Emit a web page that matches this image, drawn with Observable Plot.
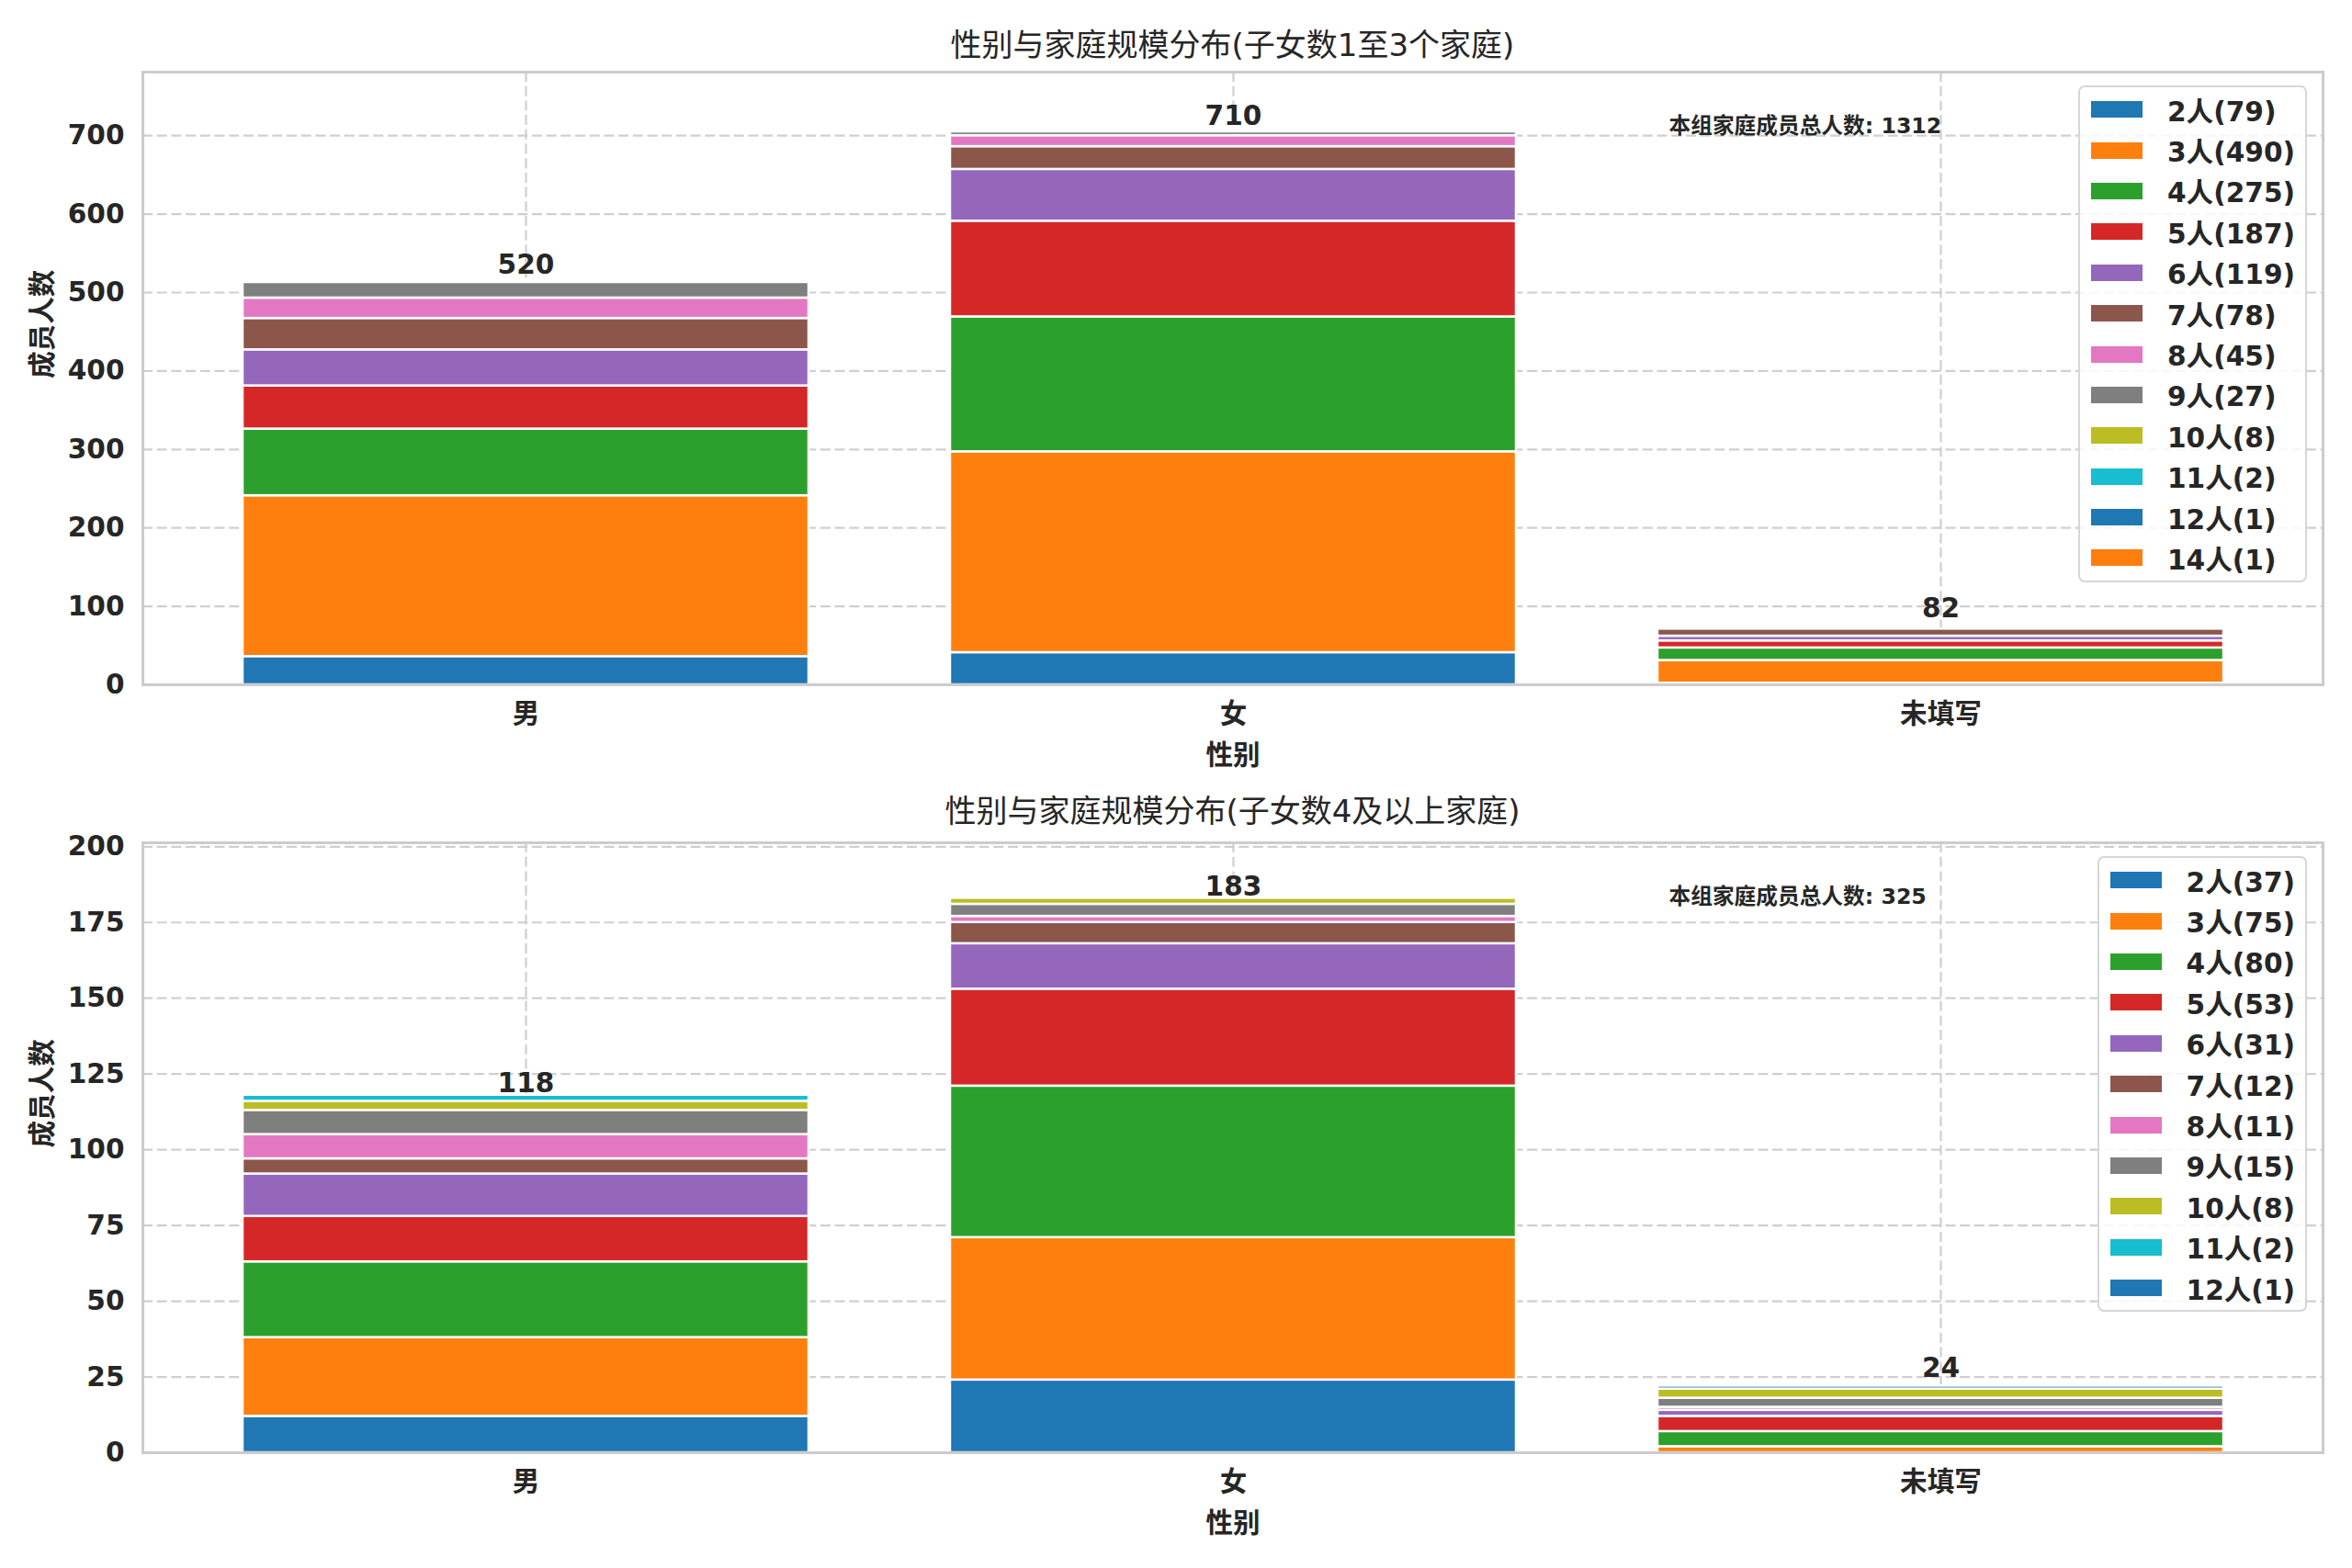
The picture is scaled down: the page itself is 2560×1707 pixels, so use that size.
<!DOCTYPE html>
<html>
<head>
<meta charset="utf-8">
<script src="https://cdn.jsdelivr.net/npm/d3@7"></script>
<script src="https://cdn.jsdelivr.net/npm/@observablehq/plot@0.6"></script>
<style>
  html, body { margin: 0; padding: 0; background: #ffffff; }
  #wrap { position: relative; width: 2560px; height: 1707px; background: #ffffff;
          font-family: "DejaVu Sans", "Noto Sans CJK SC", sans-serif; color: #262626; }
  .title { position: absolute; left: 155px; width: 2373px; text-align: center;
           font-size: 34px; line-height: 40px; font-weight: normal; color: #262626; }
  .panel { position: absolute; left: 0; }
  .legend { position: absolute; right: 49px; border: 2px solid #d6d6d6; border-radius: 7px;
            background: rgba(255,255,255,0.82); padding: 2px 11px 2px 12px; }
  .legend .row { display: flex; align-items: center; height: 44.4px; }
  .legend .sw { width: 56px; height: 18px; margin-right: 27px; }
  .legend .lb { font-size: 29.6px; font-weight: bold; color: #262626; white-space: nowrap; }
</style>
</head>
<body>
<div id="wrap"></div>
<script>
// ---------- data ----------
const categories = ["男", "女", "未填写"];

// panel 1
const title1 = "性别与家庭规模分布(子女数1至3个家庭)";
const sizes1 = ["2人", "3人", "4人", "5人", "6人", "7人", "8人", "9人", "10人", "11人", "12人", "14人"];
const legendCounts1 = [79, 490, 275, 187, 119, 78, 45, 27, 8, 2, 1, 1];
const male1 = [36, 205, 85, 55, 46, 40, 26, 20, 3, 1, 0, 0];
const female1 = [41, 256, 172, 122, 66, 29, 14, 5, 1, 0, 0, 0];
const unknown1 = [2, 29, 16, 9, 6, 9, 0, 0, 0, 0, 0, 0];
const totals1 = [520, 710, 82];
const grandTotal1 = 1312;
const yMax1 = 781;
const yTicks1 = [0, 100, 200, 300, 400, 500, 600, 700];

// panel 2
const title2 = "性别与家庭规模分布(子女数4及以上家庭)";
const sizes2 = ["2人", "3人", "4人", "5人", "6人", "7人", "8人", "9人", "10人", "11人", "12人"];
const legendCounts2 = [37, 75, 80, 53, 31, 12, 11, 15, 8, 2, 1];
const male2 = [12, 26, 25, 15, 14, 5, 8, 8, 3, 2, 0];
const female2 = [24, 47, 50, 32, 15, 7, 2, 4, 2, 0, 0];
const unknown2 = [0, 2, 5, 5, 2, 0, 1, 3, 3, 0, 1];
const totals2 = [118, 183, 24];
const grandTotal2 = 325;
const yMax2 = 201.3;
const yTicks2 = [0, 25, 50, 75, 100, 125, 150, 175, 200];

const xLabel = "性别";
const yLabel = "成员人数";
const totalLabel = "本组家庭成员总人数";

const tab10 = ["#1f77b4", "#ff7f0e", "#2ca02c", "#d62728", "#9467bd",
               "#8c564b", "#e377c2", "#7f7f7f", "#bcbd22", "#17becf"];

// ---------- drawing ----------
const FONT = '"DejaVu Sans", "Noto Sans CJK SC", sans-serif';
const wrap = document.getElementById("wrap");

function panel({title, sizes, counts, series, totals, grand, yMax, yTicks, frameTop, frameHeight, titleCenter}) {
  const rows = [];
  categories.forEach((c, ci) => {
    sizes.forEach((s, si) => {
      const v = series[ci][si];
      if (v > 0) rows.push({cat: c, size: s, value: v});
    });
  });
  const totalRows = categories.map((c, i) => ({cat: c, total: totals[i]}));
  const colorRange = sizes.map((_, i) => tab10[i % 10]);

  const mt = 10, mb = 110;
  const grid = {stroke: "#cccccc", strokeOpacity: 0.95, strokeWidth: 2.2, strokeDasharray: "11,4.7"};

  const chart = Plot.plot({
    width: 2560,
    height: mt + frameHeight + mb,
    marginTop: mt,
    marginBottom: mb,
    marginLeft: 155,
    marginRight: 32,
    style: {fontFamily: FONT, fontSize: "29.6px", fontWeight: "bold", color: "#262626", background: "transparent", overflow: "visible"},
    x: {type: "band", domain: categories, paddingInner: 0.2, paddingOuter: 0.14, align: 0.5},
    y: {domain: [0, yMax]},
    color: {type: "ordinal", domain: sizes, range: colorRange},
    marks: [
      Plot.gridY(yTicks, grid),
      Plot.gridX(categories, grid),
      Plot.barY(rows, {x: "cat", y: "value", fill: "size", stroke: "white", strokeWidth: 2.5}),
      Plot.frame({stroke: "#cccccc", strokeWidth: 3}),
      Plot.axisX({tickSize: 0, tickPadding: 20, label: null, fontSize: 29.6, fontWeight: "bold"}),
      Plot.axisY(yTicks, {tickSize: 0, tickPadding: 20, label: null, fontSize: 29.6, fontWeight: "bold"}),
      Plot.text(totalRows, {x: "cat", y: "total", text: d => String(d.total), lineAnchor: "bottom", dy: -3,
                            fontSize: 29.6, fontWeight: "bold", fill: "#262626"}),
      Plot.text([totalLabel + ": " + grand], {text: d => d, frameAnchor: "top-left", textAnchor: "start", lineAnchor: "middle",
                            dx: 1661, dy: 59, fontSize: 23.7, fontWeight: "bold", fill: "#262626"}),
      Plot.text([xLabel], {text: d => d, frameAnchor: "bottom", lineAnchor: "middle", dy: 77,
                            fontSize: 29.6, fontWeight: "bold", fill: "#262626"}),
      Plot.text([yLabel], {text: d => d, frameAnchor: "left", rotate: -90, lineAnchor: "middle", dx: -109,
                            fontSize: 29.6, fontWeight: "bold", fill: "#262626"})
    ]
  });

  const holder = document.createElement("div");
  holder.className = "panel";
  holder.style.top = (frameTop - mt) + "px";
  holder.appendChild(chart);
  wrap.appendChild(holder);

  const t = document.createElement("div");
  t.className = "title";
  t.style.top = (titleCenter - 20) + "px";
  t.textContent = title;
  wrap.appendChild(t);

  const color = chart.scale("color");
  const lg = document.createElement("div");
  lg.className = "legend";
  lg.style.top = (frameTop + 15) + "px";
  sizes.forEach((s, i) => {
    const r = document.createElement("div");
    r.className = "row";
    const sw = document.createElement("div");
    sw.className = "sw";
    sw.style.background = color.apply(s);
    const lb = document.createElement("div");
    lb.className = "lb";
    lb.textContent = s + "(" + counts[i] + ")";
    r.appendChild(sw); r.appendChild(lb);
    lg.appendChild(r);
  });
  wrap.appendChild(lg);
}

panel({title: title1, sizes: sizes1, counts: legendCounts1, series: [male1, female1, unknown1],
       totals: totals1, grand: grandTotal1, yMax: yMax1, yTicks: yTicks1,
       frameTop: 78, frameHeight: 667, titleCenter: 49});
panel({title: title2, sizes: sizes2, counts: legendCounts2, series: [male2, female2, unknown2],
       totals: totals2, grand: grandTotal2, yMax: yMax2, yTicks: yTicks2,
       frameTop: 917, frameHeight: 664, titleCenter: 883});
</script>
</body>
</html>
